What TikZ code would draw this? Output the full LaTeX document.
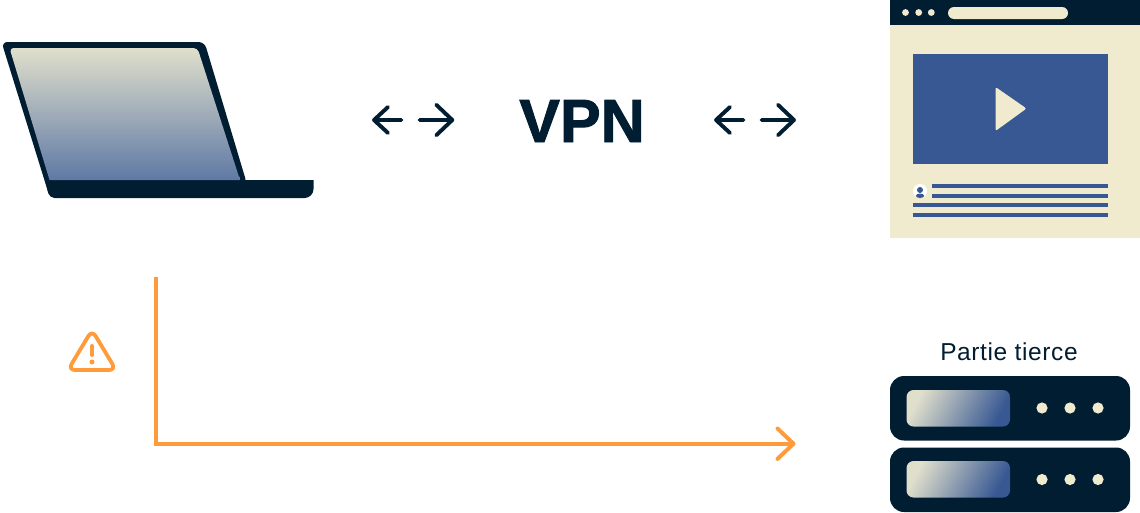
\documentclass[tikz,border=0pt]{standalone}
\usepackage{fontspec}
\setmainfont{Liberation Sans}
\usetikzlibrary{calc}
\definecolor{ink}{HTML}{011D31}
\definecolor{cream}{HTML}{F0EACF}
\definecolor{blue1}{HTML}{375893}
\definecolor{orange1}{HTML}{FF9B3B}
\definecolor{scrtop}{HTML}{E0DFCC}
\definecolor{scrbot}{HTML}{5F79A5}
\tikzset{
  x=1pt,y=-1pt,
  inkarrow/.style={draw=ink,line width=3.9pt,line cap=round,line join=round},
  warnline/.style={draw=orange1,line width=4pt},
  txtline/.style={fill=blue1},
  srv/.style={fill=ink,rounded corners=14pt},
  srvscreen/.style={left color=scrtop,right color=blue1,shading angle=62,rounded corners=7pt},
  dot/.style={fill=cream},
}
\begin{document}
\begin{tikzpicture}
\useasboundingbox (0,0) rectangle (1140,512);
% laptop
\fill[ink,rounded corners=6pt] (1.5,42) -- (204.5,42) -- (247,184) -- (50,198) -- cycle;
\fill[ink] (47,180) -- (313.5,180) [rounded corners=9pt] -- (313.5,198) [rounded corners=5pt] -- (49.5,198) [sharp corners] -- (45,180) -- cycle;
\shade[top color=scrtop,bottom color=scrbot,rounded corners=4pt] (9.5,48) -- (197.5,48) -- (240,180) [sharp corners] -- (240,180) -- (49.5,180) -- (49.5,180) [rounded corners=4pt] -- cycle;
% arrows
\coordinate (a1) at (401.5,120); \coordinate (a2) at (374,120);
\coordinate (a3) at (419.5,120); \coordinate (a4) at (452.3,120);
\coordinate (a5) at (743.5,120); \coordinate (a6) at (716,120);
\coordinate (a7) at (761.5,120); \coordinate (a8) at (794,120);
\draw[inkarrow] (a1) -- (a2) ($(a2)+(14,-13)$) -- (a2) -- ($(a2)+(14,13)$);
\draw[inkarrow] (a3) -- (a4) ($(a4)+(-16,-15.2)$) -- (a4) -- ($(a4)+(-16,15.2)$);
\draw[inkarrow] (a5) -- (a6) ($(a6)+(14,-13)$) -- (a6) -- ($(a6)+(14,13)$);
\draw[inkarrow] (a7) -- (a8) ($(a8)+(-16,-15.2)$) -- (a8) -- ($(a8)+(-16,15.2)$);
\node[anchor=base,inner sep=0pt,text=ink,font=\fontsize{61}{61}\selectfont\bfseries\addfontfeature{FakeBold=1.5}] (vpn) at (582,142) {VPN};
% browser
\fill[cream] (890,0) rectangle (1140,238);
\fill[ink] (890,0) rectangle (1140,24.5);
\fill[dot] (905.5,12.5) circle (3.4pt) (918.7,12.5) circle (3.4pt) (931.3,12.5) circle (3.4pt);
\fill[dot,rounded corners=6pt] (948,7) rectangle (1068,19);
\fill[blue1] (912.5,54) rectangle (1108,163.5);
\fill[cream,rounded corners=2pt] (995.5,87) -- (1026.5,108.5) -- (995.5,131) -- cycle;
\fill[white] (920,191) circle (7pt);
\fill[blue1] (920,190) circle (3pt) (920,195.8) ellipse (4.2pt and 2.2pt);
\fill[txtline] (932,184) rectangle (1108,188);
\fill[txtline] (932,193.6) rectangle (1108,197.6);
\fill[txtline] (912.5,203.4) rectangle (1108,207.4);
\fill[txtline] (912.5,213) rectangle (1108,217);
% warning and orange connector
\coordinate (o1) at (156,277); \coordinate (o2) at (156,443.7); \coordinate (o3) at (793.5,443.7);
\draw[warnline] (o1) -- (o2) -- (o3);
\draw[warnline,line cap=round,line join=round] ($(o3)+(-16,-15.2)$) -- (o3) -- ($(o3)+(-16,15.2)$);
\draw[warnline,line width=3.8pt,rounded corners=7pt] (92,330) -- (116,370) -- (68,370) -- cycle;
\draw[warnline,line cap=round] (92,346) -- (92,355);
\fill[orange1] (92,362) circle (2.5pt);
% servers
\node[anchor=base,inner sep=0pt,text=ink,font=\fontsize{24.5}{24.5}\selectfont\addfontfeature{LetterSpace=2.5}] (pt) at (1009,360) {Partie tierce};
\fill[srv] (890,376) rectangle (1130,440.5);
\fill[srv] (890,447.5) rectangle (1130,512);
\shade[srvscreen] (906.5,390) rectangle (1010,426.5);
\shade[srvscreen] (906.5,461) rectangle (1010,497.5);
\fill[dot] (1042,408) circle (5.6pt) (1070,408) circle (5.6pt) (1098,408) circle (5.6pt);
\fill[dot] (1042,479.5) circle (5.6pt) (1070,479.5) circle (5.6pt) (1098,479.5) circle (5.6pt);
\end{tikzpicture}
\end{document}
